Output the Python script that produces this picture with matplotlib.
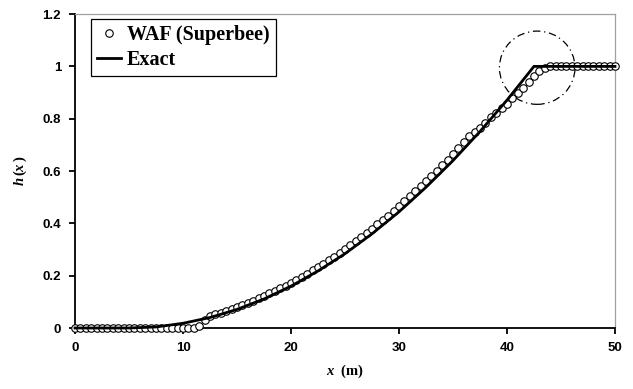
import matplotlib
matplotlib.use("Agg")
import matplotlib.pyplot as plt
import numpy as np
from matplotlib.patches import Ellipse
from matplotlib.ticker import FormatStrFormatter

# exact solution
exact_x = [0, 5, 7.5, 10, 12.5, 15, 17.5, 20, 22.5, 25, 27.5, 30, 32.5, 35, 37.5, 40, 42.5, 50]
exact_h = [0, 0, 0.004, 0.018, 0.04, 0.071, 0.111, 0.16, 0.218, 0.284, 0.36, 0.444,
           0.538, 0.64, 0.751, 0.871, 1.0, 1.0]

# WAF (Superbee) cell values, dx = 0.5
waf_x = [i * 0.5 for i in range(101)]
waf_h = [0.0] * 23 + [0.007,
         0.03, 0.047, 0.053, 0.059, 0.066, 0.073, 0.080, 0.088, 0.096, 0.104,
         0.113, 0.122, 0.132, 0.141, 0.152, 0.162, 0.173, 0.184, 0.196, 0.208,
         0.220, 0.233, 0.246, 0.259, 0.273, 0.287, 0.302, 0.317, 0.332, 0.347,
         0.363, 0.380, 0.396, 0.413, 0.430, 0.448, 0.466, 0.484, 0.503, 0.522,
         0.542, 0.562, 0.582, 0.602, 0.623, 0.644, 0.666, 0.688, 0.710, 0.733,
         0.748, 0.765, 0.785, 0.805, 0.822, 0.840, 0.858, 0.878, 0.898, 0.918,
         0.940, 0.962, 0.982, 0.995] + [1.0] * 13

plt.rcParams['mathtext.fontset'] = 'custom'
plt.rcParams['mathtext.it'] = 'Liberation Serif:italic:bold'
plt.rcParams['mathtext.rm'] = 'Liberation Serif:bold'

fig = plt.figure(figsize=(6.33, 3.89), dpi=100)
ax = fig.add_axes([0.1185, 0.1568, 0.853, 0.807])

ax.plot(waf_x, waf_h, 'o', ms=5.4, mfc='white', mec='black', mew=0.8,
        clip_on=False, zorder=3, label='WAF (Superbee)')
ax.plot(exact_x, exact_h, '-', color='black', lw=2.0, zorder=4,
        clip_on=False, label='Exact')

circ = Ellipse((42.8, 0.995), 7.0, 0.28, fill=False, ec='black', lw=0.9,
               ls=(0, (6, 3, 1, 3)), zorder=5)
ax.add_patch(circ)

ax.set_xlim(0, 50)
ax.set_ylim(0, 1.2)
ax.set_xticks([0, 10, 20, 30, 40, 50])
ax.set_yticks([0, 0.2, 0.4, 0.6, 0.8, 1.0, 1.2])
ax.yaxis.set_major_formatter(FormatStrFormatter('%g'))
ax.tick_params(direction='out', length=4, width=1.3, pad=6)
for lab in ax.get_xticklabels() + ax.get_yticklabels():
    lab.set_fontfamily('Liberation Sans')
    lab.set_fontweight('bold')
    lab.set_fontsize(9.5)

ax.spines['left'].set_linewidth(1.3)
ax.spines['bottom'].set_linewidth(1.3)
ax.spines['top'].set_color('#a0a0a0')
ax.spines['right'].set_color('#a0a0a0')
ax.spines['top'].set_linewidth(0.9)
ax.spines['right'].set_linewidth(0.9)

ax.set_xlabel(r'$x$  (m)', fontfamily='Liberation Serif', fontweight='bold',
              fontsize=10.5, labelpad=6)
ax.set_ylabel(r'$h\,(x\,)$', fontsize=10.5, labelpad=10)

leg = ax.legend(loc='upper left', bbox_to_anchor=(0.029, 0.984), borderaxespad=0,
                fancybox=False, edgecolor='black', framealpha=1,
                prop={'family': 'Liberation Serif', 'weight': 'bold', 'size': 14.5},
                handlelength=1.2, handletextpad=0.3, borderpad=0.3,
                labelspacing=0.25)
leg.get_frame().set_linewidth(0.9)

fig.savefig('out.png', dpi=100)
